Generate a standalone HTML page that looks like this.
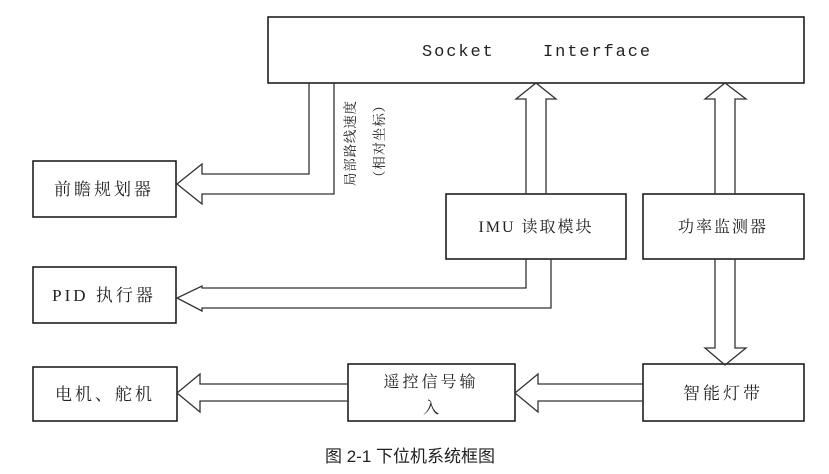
<!DOCTYPE html>
<html><head><meta charset="utf-8"><style>
html,body{margin:0;padding:0;background:#fff;}
svg{display:block}
text{font-family:"Liberation Serif","Noto Serif CJK SC","Noto Sans CJK SC",serif;fill:#222}
</style></head><body>
<svg width="829" height="474" viewBox="0 0 829 474" xmlns="http://www.w3.org/2000/svg">
<g fill="#fff" stroke="#111" stroke-width="1.5">
<rect x="268" y="17" width="536" height="66"/>
<rect x="33" y="161" width="143" height="56"/>
<rect x="33" y="267" width="143" height="56"/>
<rect x="446" y="194" width="180" height="65"/>
<rect x="643" y="194" width="161" height="65"/>
<rect x="33" y="367" width="144" height="54"/>
<rect x="348" y="364" width="167" height="57"/>
<rect x="643" y="364" width="161" height="57"/>
</g>
<g fill="none" stroke="#333" stroke-width="1.3">
<polyline points="309,83 309,174 202,174 202,164 177,184 202,204 202,194 334,194 334,83"/>
<polyline points="526,194 526,99 516,99 536,83 556,99 546,99 546,194"/>
<polyline points="526,259 526,288 202,288 202,286 177,298 202,311 202,308 551,308 551,259"/>
<polyline points="715,194 715,99 705,99 725,83 746,99 735,99 735,194"/>
<polyline points="715,259 715,348 705,348 725,365 746,348 735,348 735,259"/>
<polyline points="348,384 200,384 200,374 177,393 200,412 200,401 348,401"/>
<polyline points="643,384 538,384 538,374 515,393 538,412 538,401 643,401"/>
</g>
<text x="537" y="56" font-size="17" text-anchor="middle" style="font-family:'Liberation Mono',monospace" letter-spacing="1.9" xml:space="preserve">Socket    Interface</text>
<text x="104" y="195" font-size="17" text-anchor="middle" letter-spacing="3">前瞻规划器</text>
<text x="104" y="301" font-size="17" text-anchor="middle" letter-spacing="3">PID 执行器</text>
<text x="536" y="232" font-size="16" text-anchor="middle" letter-spacing="2">IMU 读取模块</text>
<text x="723" y="232" font-size="16" text-anchor="middle" letter-spacing="2">功率监测器</text>
<text x="105" y="400" font-size="17" text-anchor="middle" letter-spacing="3">电机、舵机</text>
<text x="431" y="387" font-size="16" text-anchor="middle" letter-spacing="3">遥控信号输</text>
<text x="431" y="413" font-size="16" text-anchor="middle">入</text>
<text x="723" y="399" font-size="17" text-anchor="middle" letter-spacing="3">智能灯带</text>
<text transform="translate(355,186) rotate(-90)" font-size="13.5" letter-spacing="0.8">局部路线速度</text>
<text transform="translate(384,184) rotate(-90)" font-size="13.5" letter-spacing="0.8">（相对坐标）</text>
<text x="410" y="462" font-size="17" text-anchor="middle" style="font-family:'Liberation Sans','Noto Sans CJK SC',sans-serif" fill="#000">图 2-1 下位机系统框图</text>
</svg>
</body></html>
